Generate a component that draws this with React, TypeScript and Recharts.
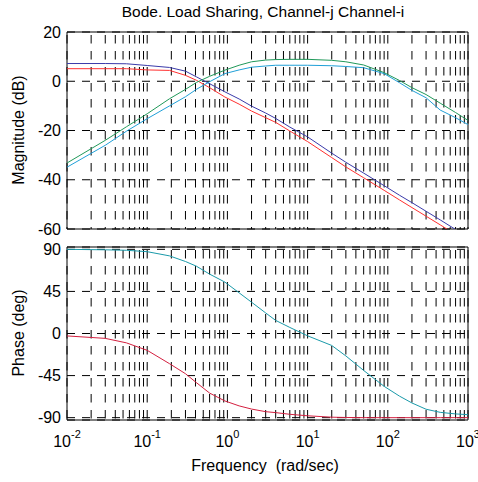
import React from "react";
import {
  LineChart,
  Line,
  XAxis,
  YAxis,
  CartesianGrid,
  ReferenceArea,
} from "recharts";

// frequencies (rad/sec) where the curves were read
const freq = [0.01, 0.03, 0.055, 0.1, 0.19, 0.3, 0.41, 0.6, 0.93, 1.4, 2, 3, 4, 6, 10, 20, 30, 50, 90, 140, 200, 300, 450, 700, 1000];

// magnitude (dB)
const magBlue = [7.2, 7.2, 7.1, 6.4, 5.6, 4.1, 1.8, -1.0, -4.3, -7.2, -10.1, -12.9, -15.1, -18.6, -22.6, -29.2, -32.9, -37.3, -42.4, -46.3, -49.3, -52.8, -56.3, -60.2, -63.3];
const magRed = [5.1, 5.1, 5.1, 4.6, 4.4, 2.4, 0.4, -2.6, -6.4, -9.3, -12.1, -14.8, -16.7, -20.2, -24.5, -31.0, -34.8, -39.2, -44.3, -48.2, -51.3, -54.8, -58.3, -62.2, -65.3];
const magGreen = [-33.2, -24.0, -18.5, -13.2, -7.1, -3.3, -0.5, 2.0, 4.5, 6.5, 7.9, 8.6, 8.8, 8.9, 8.9, 8.5, 7.9, 6.6, 3.5, 0.3, -2.6, -5.4, -8.9, -12.7, -15.9];
const magCyan = [-34.9, -26.0, -20.3, -15.2, -10.0, -6.3, -3.3, -0.2, 3.1, 4.6, 5.7, 6.2, 6.5, 6.5, 6.5, 6.3, 6.0, 5.5, 3.1, -0.6, -3.7, -6.7, -11.7, -14.8, -17.6];

// phase (deg)
const phaseHigh = [90, 89.5, 89, 87.5, 83, 77, 72, 63.5, 55, 43.5, 33.5, 22, 14, 6.5, -2.5, -12.8, -24, -39.5, -56.5, -67, -74.3, -81, -84.3, -86, -86.8];
const phaseLow = [-2.6, -5.2, -10, -18, -32.3, -43, -52.5, -63.7, -72.1, -77.4, -80.8, -83.6, -84.6, -86.4, -88, -89.5, -89.8, -90, -90, -90, -90, -90, -90, -90, -90];

// axis ticks
const decades = [0.01, 0.1, 1, 10, 100, 1000];
const minorSteps = [1, 2, 3, 4, 5, 6, 7, 8, 9];
const magTicks = [-60, -40, -20, 0, 20];
const phaseTicks = [-90, -45, 0, 45, 90];

const xTicks = decades.flatMap((d) => (d === 1000 ? [d] : minorSteps.map((m) => m * d)));

const magData = freq.map((f, i) => ({
  f,
  blue: magBlue[i],
  red: magRed[i],
  green: magGreen[i],
  cyan: magCyan[i],
}));

const phaseData = freq.map((f, i) => ({
  f,
  high: phaseHigh[i],
  low: phaseLow[i],
}));

const FONT = '"Liberation Sans", Arial, Helvetica, sans-serif';
const W = 478;

function DecadeTick(props: any) {
  const { x, y, payload } = props;
  const lg = Math.log10(payload.value);
  const e = Math.round(lg);
  if (Math.abs(lg - e) > 1e-6) return null;
  return (
    <text x={x} y={y + 27} textAnchor="middle" fontFamily={FONT} fontSize={16} fill="#000">
      <tspan>10</tspan>
      <tspan dy={-9} fontSize={11}>
        {e}
      </tspan>
    </text>
  );
}

const yTick = { fontSize: 16, fill: "#000", fontFamily: FONT };

export default function App() {
  return (
    <div
      style={{
        position: "fixed",
        left: 0,
        top: 0,
        width: W,
        height: 482,
        background: "#fff",
        fontFamily: FONT,
        color: "#000",
      }}
    >
      <div
        style={{
          position: "absolute",
          left: 263,
          top: 12,
          transform: "translate(-50%, -50%)",
          fontSize: 15.5,
          whiteSpace: "nowrap",
        }}
      >
        Bode. Load Sharing, Channel-j Channel-i
      </div>

      <div style={{ position: "absolute", left: 0, top: 0 }}>
        <LineChart width={W} height={240} data={magData} margin={{ top: 32, right: 10, bottom: 11, left: 0 }}>
          <CartesianGrid horizontal={false} stroke="#000" strokeDasharray="8.5 7.5" strokeDashoffset={13} />
          <CartesianGrid vertical={false} stroke="#000" strokeDasharray="8 7" />
          <XAxis
            dataKey="f"
            type="number"
            scale="log"
            domain={[0.01, 1000]}
            ticks={xTicks}
            interval={0}
            allowDataOverflow
            hide
          />
          <YAxis
            type="number"
            domain={[-60, 20]}
            ticks={magTicks}
            allowDataOverflow
            width={67}
            tick={yTick}
            tickLine={false}
            axisLine={false}
            tickSize={0}
            tickMargin={6}
            interval={0}
          />
          <Line dataKey="blue" stroke="#3a3aaa" strokeWidth={1} dot={false} type="linear" isAnimationActive={false} />
          <Line dataKey="red" stroke="#ff3030" strokeWidth={1} dot={false} type="linear" isAnimationActive={false} />
          <Line dataKey="green" stroke="#20995a" strokeWidth={1} dot={false} type="linear" isAnimationActive={false} />
          <Line dataKey="cyan" stroke="#20a0d8" strokeWidth={1} dot={false} type="linear" isAnimationActive={false} />
          <ReferenceArea x1={0.01} x2={1000} y1={-60} y2={20} fill="none" stroke="#000" strokeWidth={1} ifOverflow="visible" />
        </LineChart>
      </div>

      <div style={{ position: "absolute", left: 0, top: 240 }}>
        <LineChart width={W} height={242} data={phaseData} margin={{ top: 7, right: 10, bottom: 32, left: 0 }}>
          <CartesianGrid horizontal={false} stroke="#000" strokeDasharray="8.5 7.5" strokeDashoffset={13} />
          <CartesianGrid vertical={false} stroke="#000" strokeDasharray="8 7" />
          <XAxis
            dataKey="f"
            type="number"
            scale="log"
            domain={[0.01, 1000]}
            ticks={xTicks}
            allowDataOverflow
            height={30}
            tick={<DecadeTick />}
            tickLine={false}
            axisLine={false}
            tickSize={0}
            tickMargin={0}
            interval={0}
          />
          <YAxis
            type="number"
            domain={[-92.5, 92.5]}
            ticks={phaseTicks}
            allowDataOverflow
            width={67}
            tick={yTick}
            tickLine={false}
            axisLine={false}
            tickSize={0}
            tickMargin={6}
            interval={0}
          />
          <Line dataKey="high" stroke="#1a9aaa" strokeWidth={1} dot={false} type="linear" isAnimationActive={false} />
          <Line dataKey="low" stroke="#d42040" strokeWidth={1} dot={false} type="linear" isAnimationActive={false} />
          <ReferenceArea x1={0.01} x2={1000} y1={-92.5} y2={92.5} fill="none" stroke="#000" strokeWidth={1} ifOverflow="visible" />
        </LineChart>
      </div>

      <div
        style={{
          position: "absolute",
          left: 19,
          top: 130,
          transform: "translate(-50%, -50%) rotate(-90deg)",
          fontSize: 16,
          whiteSpace: "nowrap",
        }}
      >
        Magnitude (dB)
      </div>
      <div
        style={{
          position: "absolute",
          left: 19,
          top: 333,
          transform: "translate(-50%, -50%) rotate(-90deg)",
          fontSize: 16,
          whiteSpace: "nowrap",
        }}
      >
        Phase (deg)
      </div>
      <div
        style={{
          position: "absolute",
          left: 265,
          top: 466,
          transform: "translate(-50%, -50%)",
          fontSize: 16,
          whiteSpace: "pre",
        }}
      >
        Frequency  (rad/sec)
      </div>
    </div>
  );
}
